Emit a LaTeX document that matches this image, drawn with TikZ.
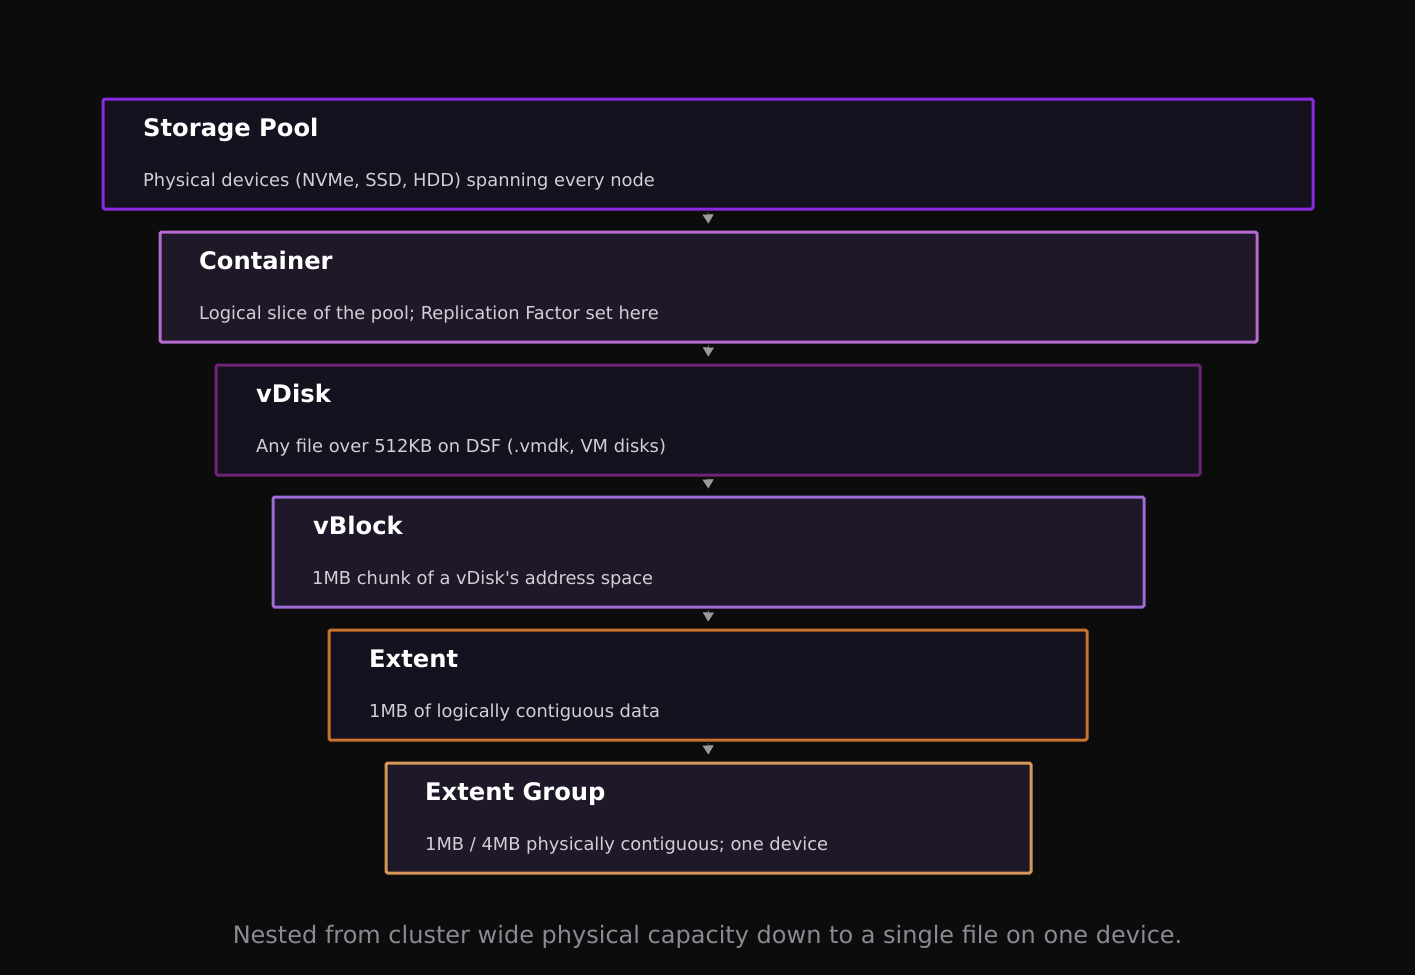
\documentclass[tikz,border=0pt]{standalone}
\usepackage{fontspec}
\setmainfont{DejaVu Sans}
\usetikzlibrary{arrows.meta}
\definecolor{bg}{HTML}{0C0C0C}
\definecolor{fillA}{HTML}{16111E}
\definecolor{fillB}{HTML}{1F1829}
\definecolor{bdA}{HTML}{8A2BE2}
\definecolor{bdB}{HTML}{B56BD0}
\definecolor{bdC}{HTML}{6E2477}
\definecolor{bdD}{HTML}{9D6BD6}
\definecolor{bdE}{HTML}{C8732C}
\definecolor{bdF}{HTML}{D69858}
\definecolor{subc}{HTML}{D2D0D6}
\definecolor{footc}{HTML}{8A8A94}
\definecolor{arrc}{HTML}{9A9A9A}
\tikzset{
  layerbox/.style={draw, line width=3pt, rounded corners=1.5pt, anchor=north west, inner sep=0pt, outer sep=0pt},
  ltitle/.style={anchor=base west, inner sep=0pt, text=white, font=\fontsize{24.2}{28}\selectfont\bfseries},
  lsub/.style={anchor=base west, inner sep=0pt, text=subc, font=\fontsize{17.85}{21}\selectfont},
  downarrow/.style={draw=arrc, line width=0.4pt, shorten <=3pt, shorten >=8.5pt, -{Triangle[width=11pt,length=9pt]}, arrc},
}
\begin{document}
\begin{tikzpicture}[x=1pt,y=-1pt]
\fill[bg] (0,0) rectangle (1415,975);
\useasboundingbox (0,0) rectangle (1415,975);
% boxes
\node[layerbox, draw=bdA, fill=fillA, minimum width=1210pt, minimum height=110pt] (b1) at (103,99) {};
\node[layerbox, draw=bdB, fill=fillB, minimum width=1097pt, minimum height=110pt] (b2) at (160,232) {};
\node[layerbox, draw=bdC, fill=fillA, minimum width=984pt, minimum height=110pt] (b3) at (216,365) {};
\node[layerbox, draw=bdD, fill=fillB, minimum width=871pt, minimum height=110pt] (b4) at (273,497) {};
\node[layerbox, draw=bdE, fill=fillA, minimum width=758pt, minimum height=110pt] (b5) at (329,630) {};
\node[layerbox, draw=bdF, fill=fillB, minimum width=645pt, minimum height=110pt] (b6) at (386,763) {};
% titles
\node[ltitle] (t1) at ([shift={(40,37)}]b1.north west) {Storage Pool};
\node[lsub]   (s1) at ([shift={(40,87)}]b1.north west) {Physical devices (NVMe, SSD, HDD) spanning every node};
\node[ltitle] (t2) at ([shift={(39,37)}]b2.north west) {Container};
\node[lsub]   (s2) at ([shift={(39,87)}]b2.north west) {Logical slice of the pool; Replication Factor set here};
\node[ltitle] (t3) at ([shift={(40,37)}]b3.north west) {vDisk};
\node[lsub]   (s3) at ([shift={(40,87)}]b3.north west) {Any file over 512KB on DSF (.vmdk, VM disks)};
\node[ltitle] (t4) at ([shift={(40,37)}]b4.north west) {vBlock};
\node[lsub]   (s4) at ([shift={(39,87)}]b4.north west) {1MB chunk of a vDisk\textquotesingle s address space};
\node[ltitle] (t5) at ([shift={(40,37)}]b5.north west) {Extent};
\node[lsub]   (s5) at ([shift={(40,87)}]b5.north west) {1MB of logically contiguous data};
\node[ltitle] (t6) at ([shift={(39,37)}]b6.north west) {Extent Group};
\node[lsub]   (s6) at ([shift={(39,87)}]b6.north west) {1MB / 4MB physically contiguous; one device};
% arrows
\draw[downarrow] (b1.south) -- (b2.north);
\draw[downarrow] (b2.south) -- (b3.north);
\draw[downarrow] (b3.south) -- (b4.north);
\draw[downarrow] (b4.south) -- (b5.north);
\draw[downarrow] (b5.south) -- (b6.north);
% footer
\node[anchor=base, inner sep=0pt, text=footc, font=\fontsize{24}{28}\selectfont] (foot) at (707.5,943) {Nested from cluster wide physical capacity down to a single file on one device.};
\end{tikzpicture}
\end{document}
